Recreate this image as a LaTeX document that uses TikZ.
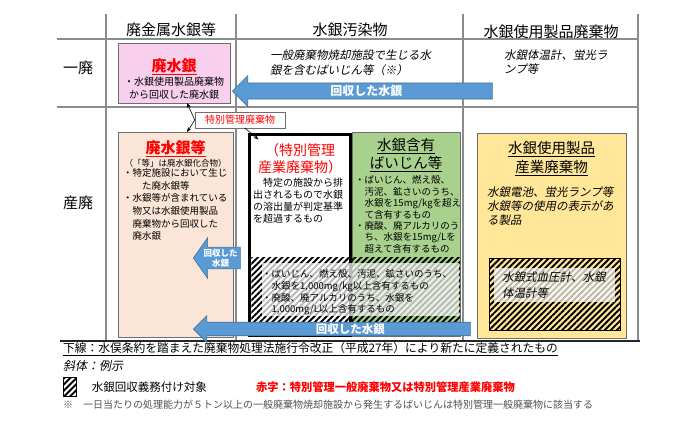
\documentclass[tikz,border=0pt]{standalone}
\usepackage{fontspec}
\setmainfont{Noto Sans CJK JP}
\newfontfamily\jpit[FakeSlant=0.2]{Noto Sans CJK JP}
\usepackage{tikz}
\usetikzlibrary{arrows.meta,positioning,shapes.arrows,patterns.meta}
\newcommand{\fsz}[2]{\fontsize{#1}{#2}\selectfont}
\definecolor{rulegray}{HTML}{8C8C8C}
\definecolor{edgegray}{HTML}{6E6E6E}
\definecolor{pinkfill}{HTML}{F9CFEE}
\definecolor{peachfill}{HTML}{FBE5D6}
\definecolor{greenfill}{HTML}{A9D18E}
\definecolor{yellowfill}{HTML}{FFE699}
\definecolor{returnblue}{HTML}{5B9BD5}
\definecolor{returnedge}{HTML}{41719C}
\definecolor{notered}{HTML}{FF0000}
\definecolor{notegray}{HTML}{505050}
\tikzset{
  table rule/.style={rulegray,line width=1.2pt},
  waste box/.style={draw=edgegray,line width=0.9pt,anchor=north west,
    inner sep=0pt,outer sep=0pt},
  special box/.style={waste box,draw=black,line width=3.5pt,fill=white},
  head label/.style={font=\fsz{15}{18},anchor=base,inner sep=0pt},
  box title/.style={align=center,inner sep=0pt},
  box text/.style={align=left,inner sep=0pt},
  hatch fill/.style={pattern={Lines[angle=45,distance=4.3pt,line width=1.9pt]}},
  haze fill/.style={fill=white,fill opacity=0.72},
  return arrow/.style={single arrow,shape border rotate=180,anchor=tip,
    fill=returnblue,draw=returnedge,line width=0.6pt,text=white,
    inner xsep=0pt,align=center},
  pointer arrow/.style={-{Stealth[length=5pt]},semithick},
  tag label/.style={draw=edgegray,fill=white,text=notered,font=\fsz{10}{12},
    minimum width=90pt,minimum height=16pt,inner sep=0pt},
  legend text/.style={anchor=base west,inner sep=0pt},
}

\begin{document}
\begin{tikzpicture}[x=1pt,y=-1pt]
  \useasboundingbox (0,0) rectangle (700,424);

  % Table rules
  \draw[table rule] (57,39) -- (638,39);
  \draw[table rule] (57,107) -- (638,107);
  \foreach \x in {106,236,463,638}
    \draw[table rule] (\x,14) -- (\x,341);
  \draw[black!85,line width=1.2pt] (60,341) -- (640,341);

  % Headings
  \node[head label] (hdMetal) at (171,35.7) {廃金属水銀等};
  \node[head label] (hdPolluted) at (350,35.7) {水銀汚染物};
  \node[head label] (hdProduct) at (551,37) {水銀使用製品廃棄物};
  \node[head label] (rowGeneral) at (78,73.7) {一廃};
  \node[head label] (rowIndustrial) at (78,208.7) {産廃};

  % Upper row examples
  \node[box text,anchor=north west,font=\jpit\fsz{11.5}{15}] (exAsh) at (270,49.7)
    {一般廃棄物焼却施設で生じる水\\銀を含むばいじん等（※）};
  \node[box text,anchor=north west,font=\jpit\fsz{11.5}{14}] (exLamp) at (504,49.7)
    {水銀体温計、蛍光ラ\\ンプ等};

  % Waste boxes
  \node[waste box,fill=pinkfill,minimum width=112pt,minimum height=60pt] (hsg) at (118,43) {};
  \node[waste box,fill=peachfill,minimum width=115pt,minimum height=205pt] (hsgEtc) at (118,132) {};
  \node[waste box,fill=greenfill,minimum width=108pt,minimum height=204pt] (hgAsh) at (352,132) {};
  \node[special box,minimum width=101pt,minimum height=200.5pt] (tkWaste) at (249.5,134.5) {};
  \node[waste box,fill=yellowfill,minimum width=149pt,minimum height=205pt] (prodWaste) at (477,133) {};

  % Mercury recovery obligation (hatched)
  \fill[hatch fill] (251.25,257) rectangle (460,333.25);
  \fill[haze fill] (262,263) rectangle (459,316);
  \fill[hatch fill] (489,258) rectangle (620,330);
  \draw[black,line width=0.6pt] (489,258) rectangle (620,330);
  \fill[haze fill] (494,268) rectangle (615,302);

  % Box texts
  \node[box title,below=15.1pt of hsg.north,text=notered,font=\bfseries\fsz{15}{18}] (hsgTitle)
    {\underline{廃水銀}};
  \node[box title,below=33.4pt of hsg.north,font=\fsz{10}{13}] (hsgText)
    {・水銀使用製品廃棄物\\から回収した廃水銀};
  \node[box title,below=8.6pt of hsgEtc.north,text=notered,font=\bfseries\fsz{15}{18}] (hsgEtcTitle)
    {\underline{廃水銀等}};
  \node[box title,below=27.1pt of hsgEtc.north,font=\fsz{8.5}{10}] (hsgEtcNote)
    {（「等」は廃水銀化合物）};
  \node[box text,below right=36.6pt and 5pt of hsgEtc.north west,font=\fsz{9.5}{12.6}] (hsgEtcText)
    {・特定施設において生じ\\　　た廃水銀等\\・水銀等が含まれている\\　物又は水銀使用製品\\　廃棄物から回収した\\　廃水銀};
  \node[box title,below=8.6pt of tkWaste.north,text=notered,font=\fsz{14}{17}] (tkTitle)
    {（特別管理\\産業廃棄物）};
  \node[box text,below right=42.9pt and 3.5pt of tkWaste.north west,font=\fsz{10}{12.2}] (tkText)
    {　特定の施設から排\\出されるもので水銀\\の溶出量が判定基準\\を超過するもの};
  \node[box title,below=6.3pt of hgAsh.north,font=\fsz{14.5}{18}] (hgAshTitle)
    {\underline{水銀含有}\\\underline{ばいじん等}};
  \node[box text,below right=43.6pt and 3pt of hgAsh.north west,font=\fsz{9.5}{11.4}] (hgAshText)
    {・ばいじん、燃え殻、\\　汚泥、鉱さいのうち、\\　水銀を15mg/kgを超え\\　て含有するもの\\・廃酸、廃アルカリのう\\　ち、水銀を15mg/Lを\\　超えて含有するもの};
  \node[box text,anchor=north west,font=\fsz{9.5}{11.7}] (hgHighText) at (262,269.6)
    {・ばいじん、燃え殻、汚泥、鉱さいのうち、\\　水銀を1,000mg/kg以上含有するもの\\・廃酸、廃アルカリのうち、水銀を\\　1,000mg/L以上含有するもの};
  \node[box title,below=8.3pt of prodWaste.north,font=\fsz{14.5}{19}] (prodTitle)
    {\underline{水銀使用製品}\\\underline{産業廃棄物}};
  \node[box text,below right=53.7pt and 10pt of prodWaste.north west,font=\jpit\fsz{11.5}{14}] (prodText)
    {水銀電池、蛍光ランプ等\\水銀等の使用の表示があ\\る製品};
  \node[box text,anchor=north west,font=\jpit\fsz{11.5}{16}] (prodHighText) at (502,271.7)
    {水銀式血圧計、水銀\\体温計等};

  % Recovered mercury flows
  \node[return arrow,minimum height=260pt,inner ysep=2pt,single arrow head extend=7.5pt,
    font=\bfseries\fsz{12}{12}] (backTop) at (232,91) {回収した水銀};
  \node[return arrow,minimum height=47pt,inner ysep=1.5pt,single arrow head extend=9.5pt,
    single arrow tip angle=110,font=\bfseries\fsz{8.5}{10}] (backSmall) at (193,258) {回収した\\水銀};
  \node[return arrow,minimum height=277pt,inner ysep=1pt,single arrow head extend=6.5pt,
    font=\bfseries\fsz{11.5}{12}] (backBottom) at (193,329) {\hspace*{30pt}回収した水銀};

  % Specially controlled waste tag
  \node[tag label] (tagSpecial) at (240,120) {特別管理廃棄物};
  \draw[pointer arrow] (tagSpecial.west) -- ([xshift=13pt]hsg.south);
  \draw[pointer arrow] (tagSpecial.west) -- ([xshift=11.5pt]hsgEtc.north);
  \draw[pointer arrow] ([xshift=5pt]tagSpecial.south) -- ([shift={(9,5)}]tkWaste.north west);

  % Legend
  \node[legend text,font=\fsz{11.75}{14}] (noteUnder) at (63,352.5)
    {\underline{下線：水俣条約を踏まえた廃棄物処理法施行令改正（平成27年）により新たに定義されたもの}};
  \node[legend text,font=\jpit\fsz{12}{14}] (noteItalic) at (63,370.6) {斜体：例示};
  \node[draw,hatch fill,line width=0.6pt,minimum width=13pt,minimum height=19pt,
    inner sep=0pt,anchor=north west] (swatch) at (63,377) {};
  \node[font=\fsz{11.5}{14},inner sep=0pt,right=15pt of swatch] (noteHatch) {水銀回収義務付け対象};
  \node[font=\bfseries\fsz{11.25}{14},text=notered,inner sep=0pt,right=49pt of noteHatch] (noteRed)
    {赤字：特別管理一般廃棄物又は特別管理産業廃棄物};
  \node[legend text,font=\fsz{10}{12},text=notegray] (noteAsh) at (63,408.8)
    {※　一日当たりの処理能力が５トン以上の一般廃棄物焼却施設から発生するばいじんは特別管理一般廃棄物に該当する};
\end{tikzpicture}
\end{document}
